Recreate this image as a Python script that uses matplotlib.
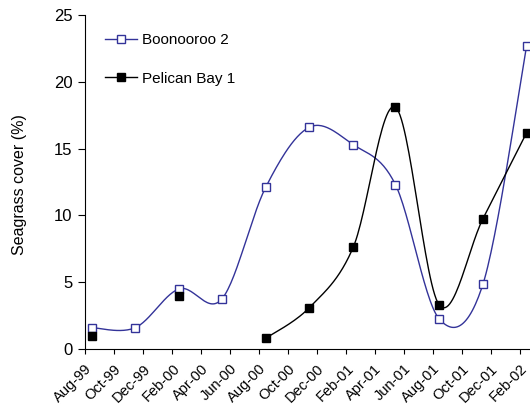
import datetime as dt
import numpy as np
import matplotlib
matplotlib.use("Agg")
import matplotlib.pyplot as plt
import matplotlib.dates as mdates

plt.rcParams['font.family'] = ['Liberation Sans', 'DejaVu Sans']

# sampling dates (quarterly, mid-month)
dates = [dt.date(1999, 8, 15), dt.date(1999, 11, 15), dt.date(2000, 2, 15),
         dt.date(2000, 5, 15), dt.date(2000, 8, 15), dt.date(2000, 11, 15),
         dt.date(2001, 2, 15), dt.date(2001, 5, 15), dt.date(2001, 8, 15),
         dt.date(2001, 11, 15), dt.date(2002, 2, 15)]
boonooroo = [1.6, 1.6, 4.5, 3.75, 12.1, 16.6, 15.3, 12.3, 2.25, 4.85, 22.7]
pelican = [1.0, np.nan, 4.0, np.nan, 0.8, 3.1, 7.6, 18.1, 3.3, 9.75, 16.2]

BLUE = '#333399'


def smooth(x, y, n=30):
    # excel-like smoothed line (catmull-rom bezier)
    x = np.asarray(x, float)
    y = np.asarray(y, float)
    if len(x) < 2:
        return x, y
    px = np.concatenate([[x[0]], x, [x[-1]]])
    py = np.concatenate([[y[0]], y, [y[-1]]])
    xs, ys = [], []
    t = np.linspace(0, 1, n)
    for i in range(1, len(px) - 2):
        p0 = np.array([px[i], py[i]])
        p3 = np.array([px[i + 1], py[i + 1]])
        c1 = p0 + (np.array([px[i + 1], py[i + 1]]) - np.array([px[i - 1], py[i - 1]])) / 6
        c2 = p3 - (np.array([px[i + 2], py[i + 2]]) - np.array([px[i], py[i]])) / 6
        b = ((1 - t) ** 3)[:, None] * p0 + (3 * (1 - t) ** 2 * t)[:, None] * c1 \
            + (3 * (1 - t) * t ** 2)[:, None] * c2 + (t ** 3)[:, None] * p3
        xs.extend(b[:, 0])
        ys.extend(b[:, 1])
    return np.array(xs), np.array(ys)


def draw(ax, x, y, color, face, label):
    x = np.array(x)
    y = np.array(y, float)
    seg_x, seg_y = [], []
    for xi, yi in list(zip(x, y)) + [(None, np.nan)]:
        if np.isnan(yi):
            if len(seg_x) > 1:
                sx, sy = smooth(seg_x, seg_y)
                ax.plot(sx, sy, color=color, lw=1.0, zorder=2)
            seg_x, seg_y = [], []
        else:
            seg_x.append(xi)
            seg_y.append(yi)
    ok = ~np.isnan(y)
    ax.plot(x[ok], y[ok], ls='none', marker='s', ms=6, mfc=face, mec=color,
            mew=1.0, zorder=3, clip_on=False)
    ax.plot([], [], color=color, lw=1.0, marker='s', ms=6, mfc=face, mec=color,
            mew=1.0, label=label)


xnum = mdates.date2num(dates)

fig = plt.figure(figsize=(5.3, 4.07), dpi=100)
ax = fig.add_axes([85 / 530, 58 / 407, 1 - 85 / 530, 334 / 407])

draw(ax, xnum, boonooroo, BLUE, 'white', 'Boonooroo 2')
draw(ax, xnum, pelican, 'black', 'black', 'Pelican Bay 1')

ax.set_ylim(0, 25)
ax.set_yticks([0, 5, 10, 15, 20, 25])
ax.set_xlim(mdates.date2num(dt.date(1999, 8, 1)), mdates.date2num(dt.date(2002, 2, 22)))
ax.xaxis.set_major_locator(mdates.MonthLocator(bymonth=[2, 4, 6, 8, 10, 12]))
ax.xaxis.set_major_formatter(mdates.DateFormatter('%b-%y'))
for lab in ax.get_xticklabels():
    lab.set_rotation(45)
    lab.set_ha('right')
    lab.set_rotation_mode('anchor')
ax.tick_params(axis='x', labelsize=10.5, length=3.6, direction='out', pad=5.5)
ax.tick_params(axis='y', labelsize=12, length=5, direction='out', pad=4)
ax.spines['top'].set_visible(False)
ax.spines['right'].set_visible(False)
ax.set_ylabel('Seagrass cover (%)', fontsize=11.5)
ax.yaxis.set_label_coords(-0.13, 0.491)

ax.legend(loc='upper left', bbox_to_anchor=(0.013, 0.987), frameon=False,
          fontsize=11, labelspacing=1.6, handlelength=2.1, handletextpad=0.33)

fig.savefig('out.png', dpi=100)
